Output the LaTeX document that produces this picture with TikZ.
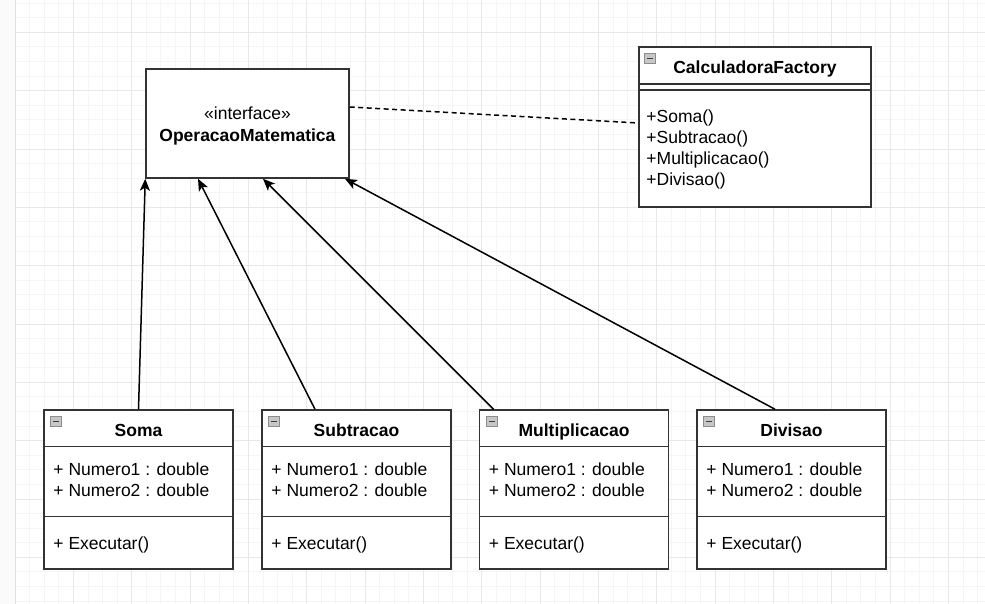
\documentclass[tikz,border=0pt]{standalone}
\usepackage{fontspec}
\setmainfont{Liberation Sans}
\usetikzlibrary{arrows.meta}
\newcommand\umlfont[0]{\fontsize{17.5}{21}\selectfont}

\tikzset{
  minorgrid/.style={draw=black!4, line width=0.8pt},
  majorgrid/.style={draw=black!9, line width=0.8pt},
  classbox/.style={draw=black!80, line width=1.5pt, fill=white, inner sep=0pt,
    minimum width=189pt, minimum height=159pt},
  classline/.style={draw=black!80, line width=1.5pt},
  classtitle/.style={font=\umlfont\bfseries, inner sep=0pt, text height=12.5pt, text depth=0pt},
  members/.style={font=\umlfont, align=left, anchor=west, inner sep=0pt},
  collapse/.style={draw=black!45, fill=black!22, line width=0.8pt, minimum width=11pt,
    minimum height=10pt, inner sep=0pt,
    path picture={\draw[black!75, line width=1.4pt]
      ([xshift=2.5pt]path picture bounding box.west) --
      ([xshift=-2.5pt]path picture bounding box.east);}},
  realiza/.style={draw=black, line width=1.5pt, -{Stealth[length=12pt, width=10pt, inset=3pt]}},
  depende/.style={draw=black, line width=1.5pt, dash pattern=on 5pt off 3.5pt}
}

\begin{document}
\begin{tikzpicture}[x=1pt, y=-1pt]

\useasboundingbox (0,0) rectangle (985,604);

% fundo quadriculado
\fill[black!2] (0,0) rectangle (15,604);
\foreach \i in {1,...,67} \draw[minorgrid] ({15+\i*14.583},0) -- ++(0,604);
\foreach \i in {-2,...,39} \draw[minorgrid] (15,{32.3+\i*14.583}) -- (985,{32.3+\i*14.583});
\foreach \i in {1,...,16} \draw[majorgrid] ({15+\i*58.333},0) -- ++(0,604);
\foreach \i in {0,...,9} \draw[majorgrid] (15,{32.3+\i*58.333}) -- (985,{32.3+\i*58.333});
\draw[black!12, line width=1pt] (15,0) -- (15,604);

% interface
\node[classbox, minimum width=203pt, minimum height=109pt] (iface) at (247.5,123.5) {};
\node[font=\umlfont, align=center, inner sep=0pt, yshift=-2pt] (ifacetext) at (iface.center)
  {\guillemotleft interface\guillemotright\\[1pt]\textbf{OperacaoMatematica}};

% fabrica
\node[classbox, minimum width=232pt, minimum height=160pt] (fabrica) at (755,127) {};
\draw[classline] ([yshift=-38pt]fabrica.north west) -- ([yshift=-38pt]fabrica.north east);
\draw[classline] ([yshift=-44pt]fabrica.north west) -- ([yshift=-44pt]fabrica.north east);
\node[collapse] (fabrica-icon) at ([xshift=12pt, yshift=-12pt]fabrica.north west) {};
\node[classtitle] (fabrica-titulo) at ([yshift=-21pt]fabrica.north) {CalculadoraFactory};
\node[members] (fabrica-metodos) at ([xshift=8pt, yshift=-103pt]fabrica.north west)
  {+Soma()\\+Subtracao()\\+Multiplicacao()\\+Divisao()};

% operacoes
\foreach \nome/\titulo/\x in {soma/Soma/138.5, subtracao/Subtracao/356.5,
    multiplicacao/Multiplicacao/574, divisao/Divisao/791.5} {
  \node[classbox] (\nome) at (\x,489.5) {};
  \draw[classline] ([yshift=-37pt]\nome.north west) -- ([yshift=-37pt]\nome.north east);
  \draw[classline] ([yshift=-107pt]\nome.north west) -- ([yshift=-107pt]\nome.north east);
  \node[collapse] (\nome-icon) at ([xshift=13pt, yshift=-12pt]\nome.north west) {};
  \node[classtitle] (\nome-titulo) at ([yshift=-21pt]\nome.north) {\titulo};
  \node[members] (\nome-atributos) at ([xshift=10pt, yshift=-70pt]\nome.north west)
    {+ Numero1 : double\\+ Numero2 : double};
  \node[members] (\nome-metodo) at ([xshift=10pt, yshift=-136pt]\nome.north west)
    {+ Executar()};
}

% realizacoes
\draw[realiza] (soma.north) -- (iface.south west);
\draw[realiza] ([xshift=-41.5pt]subtracao.north) -- ([xshift=-49.5pt]iface.south);
\draw[realiza] ([xshift=-80.5pt]multiplicacao.north) -- ([xshift=15.5pt]iface.south);
\draw[realiza] ([xshift=-16.5pt]divisao.north) -- ([xshift=97.5pt]iface.south);

% dependencia
\draw[depende] ([yshift=16.5pt]iface.east) -- ([yshift=4pt]fabrica.west);

\end{tikzpicture}
\end{document}
